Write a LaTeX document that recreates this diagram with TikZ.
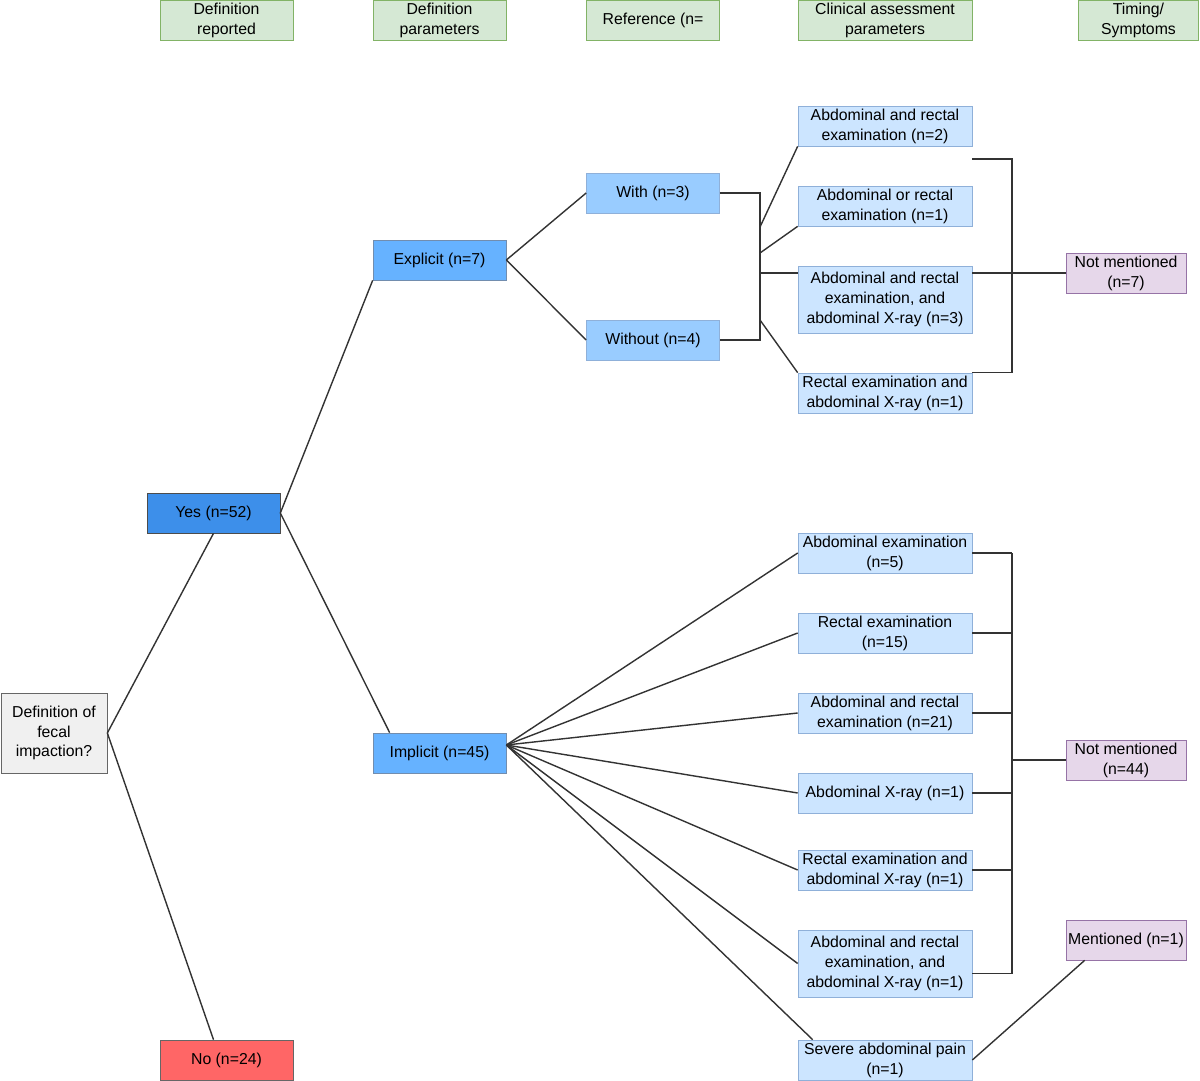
\documentclass[tikz,border=0pt]{standalone}
\usepackage{fontspec}
\setmainfont{Liberation Sans}
\definecolor{hdrfill}{HTML}{D5E8D4}
\definecolor{hdrline}{HTML}{82B366}
\definecolor{rootfill}{HTML}{F0F0F0}
\definecolor{rootline}{HTML}{666666}
\definecolor{yesfill}{HTML}{3D8FEA}
\definecolor{nofill}{HTML}{FF6666}
\definecolor{kindfill}{HTML}{66B2FF}
\definecolor{reffill}{HTML}{99CCFF}
\definecolor{clinfill}{HTML}{CCE5FF}
\definecolor{clinline}{HTML}{8FB0D9}
\definecolor{timefill}{HTML}{E6D7EA}
\definecolor{timeline}{HTML}{9673A6}
\begin{document}
\begin{tikzpicture}[x=0.02cm, y=-0.02cm,
        font=\fontsize{9}{11.3}\selectfont,
        caixa/.style={shape=rectangle, draw, align=center, inner sep=1pt, minimum width=2.66cm, minimum height=0.8cm},
        cabec/.style={caixa, fill=hdrfill, draw=hdrline},
        raiz/.style={caixa, fill=rootfill, draw=rootline, minimum width=2.12cm, minimum height=1.6cm},
        sim/.style={caixa, fill=yesfill, draw=black!70},
        nao/.style={caixa, fill=nofill, draw=black!60},
        tipo/.style={caixa, fill=kindfill, draw=clinline!80!black},
        refer/.style={caixa, fill=reffill, draw=clinline},
        clinico/.style={caixa, fill=clinfill, draw=clinline, minimum width=3.48cm},
        tempo/.style={caixa, fill=timefill, draw=timeline, minimum width=2.4cm},
        aresta/.style={line width=0.8pt, draw=black!80},
    ]
    \useasboundingbox (0,0) rectangle (1200,1081);

    % column headers
    \node[cabec] (h1) at (226.5,20) {Definition\\reported};
    \node[cabec] (h2) at (439.5,20) {Definition\\parameters};
    \node[cabec] (h3) at (653,20) {Reference (n=};
    \node[cabec, minimum width=3.48cm] (h4) at (885,20) {Clinical assessment\\parameters};
    \node[cabec, minimum width=2.4cm] (h5) at (1138.5,20) {Timing/\\Symptoms};

    \node[raiz] (def) at (54,733) {Definition of\\fecal\\impaction?};
    \node[sim] (yes) at (213.5,513) {Yes (n=52)};
    \node[nao] (no) at (226.5,1060) {No (n=24)};
    \node[tipo] (expl) at (439.5,260) {Explicit (n=7)};
    \node[tipo] (impl) at (439.5,753) {Implicit (n=45)};
    \node[refer] (with) at (653,193) {With (n=3)};
    \node[refer] (without) at (653,340) {Without (n=4)};

    \node[clinico] (ce1) at (885,126) {Abdominal and rectal\\examination (n=2)};
    \node[clinico] (ce2) at (885,206) {Abdominal or rectal\\examination (n=1)};
    \node[clinico, minimum height=1.34cm] (ce3) at (885,299.5) {Abdominal and rectal\\examination, and\\abdominal X-ray (n=3)};
    \node[clinico] (ce4) at (885,393) {Rectal examination and\\abdominal X-ray (n=1)};
    \node[clinico] (ci1) at (885,553) {Abdominal examination\\(n=5)};
    \node[clinico] (ci2) at (885,633) {Rectal examination\\(n=15)};
    \node[clinico] (ci3) at (885,713) {Abdominal and rectal\\examination (n=21)};
    \node[clinico] (ci4) at (885,793) {Abdominal X-ray (n=1)};
    \node[clinico] (ci5) at (885,870) {Rectal examination and\\abdominal X-ray (n=1)};
    \node[clinico, minimum height=1.34cm] (ci6) at (885,963.5) {Abdominal and rectal\\examination, and\\abdominal X-ray (n=1)};
    \node[clinico] (ci7) at (885,1060) {Severe abdominal pain\\(n=1)};

    \node[tempo] (t1) at (1126,273) {Not mentioned\\(n=7)};
    \node[tempo] (t2) at (1126,760) {Not mentioned\\(n=44)};
    \node[tempo] (t3) at (1126,940) {Mentioned (n=1)};

    % tree
    \draw[aresta] (def.east) -- (yes.south);
    \draw[aresta] (def.east) -- ([xshift=-0.26cm]no.north);
    \draw[aresta] (yes.east) -- (expl.south west);
    \draw[aresta] (yes.east) -- ([xshift=0.34cm]impl.north west);
    \draw[aresta] (expl.east) -- (with.west);
    \draw[aresta] (expl.east) -- (without.west);

    % explicit branch
    \draw[aresta] (with.east) -- ++(40,0) |- (without.east);
    \coordinate (j1) at (760,227);
    \coordinate (j2) at (760,253);
    \coordinate (j3) at (760,273);
    \coordinate (j4) at (760,320);
    \draw[aresta] (j1) -- (ce1.south west);
    \draw[aresta] (j2) -- (ce2.south west);
    \draw[aresta] (j3) -- (ce3.west |- j3);
    \draw[aresta] (j4) -- (ce4.north west);
    \coordinate (b1) at (972,159);
    \draw[aresta] (b1) -- ++(40,0) |- (ce4.north east);
    \draw[aresta] (t1.west) -- (t1.west -| ce3.east);

    % implicit branch
    \coordinate (fan) at ([yshift=0.16cm]impl.east);
    \foreach \n in {ci1,ci2,ci3,ci4,ci5,ci6}
        \draw[aresta] (fan) -- (\n.west);
    \draw[aresta] (fan) -- ([xshift=0.3cm]ci7.north west);
    \coordinate (rb) at (1012,0);
    \coordinate (s6) at ([yshift=-0.2cm]ci6.east);
    \foreach \n in {ci1,ci2,ci3,ci4,ci5}
        \draw[aresta] (\n.east) -- (\n.east -| rb);
    \draw[aresta] (s6) -- (s6 -| rb) -- (ci1.east -| rb);
    \draw[aresta] (rb |- t2.west) -- (t2.west);
    \draw[aresta] (ci7.east) -- ([xshift=0.38cm]t3.south west);

\end{tikzpicture}
\end{document}
